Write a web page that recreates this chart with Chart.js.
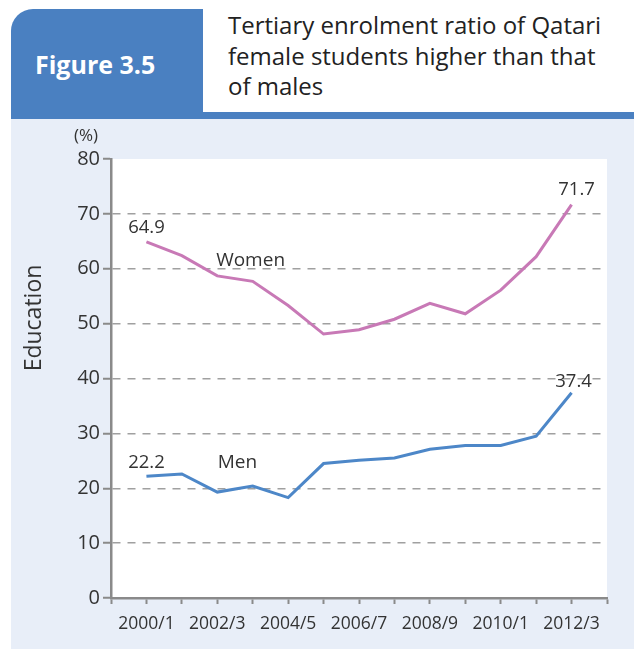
<!DOCTYPE html>
<html lang="en">
<head>
    <meta charset="UTF-8">
    <title>Figure 3.5</title>
    <style>
        html, body{
            margin: 0;
            padding: 0;
            background-color: #fff;
        }
        body{
            width: 634px;
            height: 649px;
            position: relative;
            overflow: hidden;
            font-family: "Open Sans", sans-serif;
        }
        .kopf{
            position: absolute;
            left: 11px;
            top: 9px;
            width: 623px;
            height: 110px;
            background-color: #4a80c1;
            border-top-left-radius: 22px;
        }
        .nummer{
            position: absolute;
            left: 35px;
            top: 52px;
            font-size: 25px;
            line-height: 25px;
            font-weight: bold;
            color: #fff;
        }
        .titelbox{
            position: absolute;
            left: 203px;
            top: 9px;
            width: 431px;
            height: 103px;
            background-color: #fff;
        }
        .titel{
            position: absolute;
            left: 228px;
            top: 10px;
            font-size: 24px;
            line-height: 30.5px;
            color: #222;
            white-space: nowrap;
        }
        .flaeche{
            position: absolute;
            left: 11px;
            top: 119px;
            width: 623px;
            height: 530px;
            background-color: #e8eef8;
        }
        canvas{
            position: absolute;
            left: 0;
            top: 0;
        }
    </style>
</head>
<body>
    <div class="kopf"></div>
    <div class="titelbox"></div>
    <div class="nummer">Figure 3.5</div>
    <div class="titel">Tertiary enrolment ratio of Qatari<br>female students higher than that<br>of males</div>
    <div class="flaeche"></div>
    <canvas id="diagramm" width="634" height="649"></canvas>

    <script src="https://cdn.jsdelivr.net/npm/chart.js"></script>
    <script>
        // academic years, every second one is labelled
        const categories = ['2000/1', '2001/2', '2002/3', '2003/4', '2004/5', '2005/6', '2006/7',
                            '2007/8', '2008/9', '2009/10', '2010/1', '2011/2', '2012/3'];
        const women = [64.9, 62.4, 58.7, 57.7, 53.3, 48.1, 48.9, 50.8, 53.7, 51.8, 56.1, 62.2, 71.7];
        const men = [22.2, 22.6, 19.3, 20.4, 18.3, 24.5, 25.1, 25.5, 27.1, 27.8, 27.8, 29.5, 37.4];
        const yTicks = [0, 10, 20, 30, 40, 50, 60, 70, 80];

        const textFarbe = '#333';
        const achsenFarbe = '#8a8a8a';

        // white plot area
        const weisseFlaeche = {
            id: 'weisseFlaeche',
            beforeDraw(chart) {
                const {ctx, chartArea} = chart;
                ctx.save();
                ctx.fillStyle = '#fff';
                ctx.fillRect(chartArea.left, chartArea.top, chartArea.right - chartArea.left, chartArea.bottom - chartArea.top);
                ctx.restore();
            }
        };

        // value labels, series names, unit and axis title
        const beschriftung = {
            id: 'beschriftung',
            afterDatasetsDraw(chart) {
                const {ctx, chartArea} = chart;
                const x = chart.scales.x;
                const y = chart.scales.y;
                const last = categories.length - 1;
                ctx.save();
                ctx.fillStyle = textFarbe;
                ctx.textAlign = 'center';
                ctx.textBaseline = 'middle';

                ctx.font = '18.5px "Open Sans"';
                ctx.fillText(women[0].toFixed(1), x.getPixelForValue(0), y.getPixelForValue(women[0]) - 14);
                ctx.fillText(women[last].toFixed(1), x.getPixelForValue(last) + 5, y.getPixelForValue(women[last]) - 15);
                ctx.fillText(men[0].toFixed(1), x.getPixelForValue(0), y.getPixelForValue(men[0]) - 13);
                ctx.fillText(men[last].toFixed(1), x.getPixelForValue(last) + 2, y.getPixelForValue(men[last]) - 11);

                ctx.font = '19px "Open Sans"';
                ctx.fillText('Women', x.getPixelForValue(2.94), y.getPixelForValue(61.5));
                ctx.fillText('Men', x.getPixelForValue(2.57), y.getPixelForValue(24.7));

                ctx.font = '17px "Open Sans"';
                ctx.fillText('(%)', chartArea.left - 25, chartArea.top - 23);

                ctx.font = '23px "Open Sans"';
                ctx.translate(34, 318);
                ctx.rotate(-Math.PI / 2);
                ctx.fillText('Education', 0, 0);
                ctx.restore();
            }
        };

        new Chart(document.getElementById('diagramm').getContext('2d'), {
            type: 'line',
            data: {
                datasets: [{
                    label: 'Women',
                    data: women.map((wert, i) => ({x: i, y: wert})),
                    borderColor: '#c879b6',
                    borderWidth: 3,
                    pointRadius: 0,
                    tension: 0
                }, {
                    label: 'Men',
                    data: men.map((wert, i) => ({x: i, y: wert})),
                    borderColor: '#4d87c8',
                    borderWidth: 3,
                    pointRadius: 0,
                    tension: 0
                }]
            },
            options: {
                responsive: false,
                animation: false,
                layout: {
                    padding: {top: 159, right: 27, bottom: 11, left: 0}
                },
                plugins: {
                    legend: {display: false},
                    tooltip: {enabled: false}
                },
                scales: {
                    x: {
                        type: 'linear',
                        min: -1,
                        max: categories.length,
                        afterFit: scale => { scale.height = 40; },
                        afterBuildTicks: scale => {
                            scale.ticks = [];
                            for (let i = -1; i <= categories.length; i++) scale.ticks.push({value: i});
                        },
                        ticks: {
                            autoSkip: false,
                            maxRotation: 0,
                            padding: 10,
                            color: textFarbe,
                            font: {family: 'Open Sans', size: 17.5},
                            callback: value => (value >= 0 && value % 2 === 0 && value < categories.length) ? categories[value] : ''
                        },
                        grid: {
                            drawOnChartArea: false,
                            tickLength: 6,
                            tickWidth: 2,
                            tickColor: achsenFarbe
                        },
                        border: {color: achsenFarbe, width: 2.5}
                    },
                    y: {
                        min: 0,
                        max: 80,
                        afterFit: scale => { scale.width = 111; },
                        afterBuildTicks: scale => { scale.ticks = yTicks.map(v => ({value: v})); },
                        ticks: {
                            padding: 3,
                            color: textFarbe,
                            font: {family: 'Open Sans', size: 20}
                        },
                        grid: {
                            color: ctx => (ctx.tick && ctx.tick.value > 0 && ctx.tick.value < 80) ? '#a0a0a0' : 'rgba(0,0,0,0)',
                            lineWidth: 1.5,
                            tickLength: 8,
                            tickWidth: 2,
                            tickColor: achsenFarbe,
                            tickBorderDash: []
                        },
                        border: {color: achsenFarbe, width: 2.5, dash: [8, 7]}
                    }
                }
            },
            plugins: [weisseFlaeche, beschriftung]
        });
    </script>
</body>
</html>
